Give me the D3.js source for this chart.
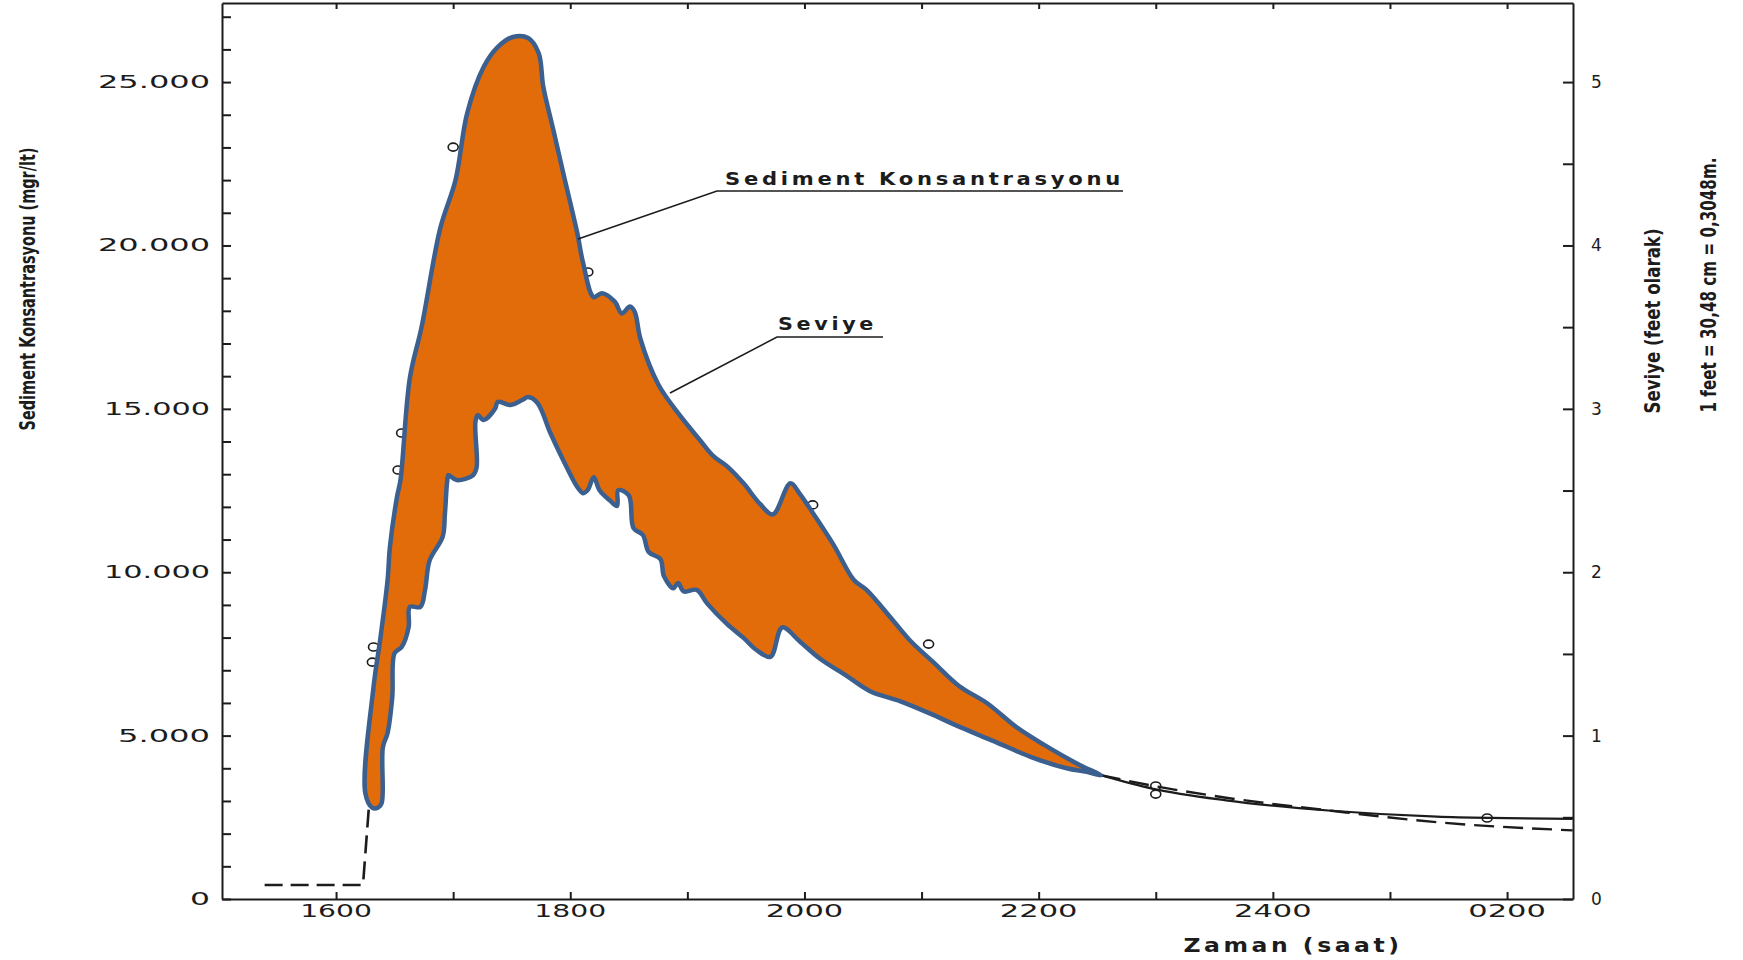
<!DOCTYPE html>
<html>
<head>
<meta charset="utf-8">
<script src="https://cdn.jsdelivr.net/npm/d3@7"></script>
<style>
  body { margin: 0; background: #fff; }
  svg { display: block; }
  text { fill: #1c1c1c; }
</style>
</head>
<body>
<svg id="chart" width="1743" height="960"></svg>
<script>
// time in hours (16 = 1600, 26 = 0200), concentration in mgr/lt
const upperTime = [16.25, 16.32, 16.38, 16.44, 16.46, 16.52, 16.55, 16.63, 16.73, 16.89, 17.02, 17.12, 17.26, 17.38, 17.51, 17.64, 17.73, 17.77, 17.85, 17.94, 18.06, 18.11, 18.20, 18.27, 18.38, 18.44, 18.51, 18.55, 18.60, 18.75, 18.91, 19.11, 19.22, 19.34, 19.48, 19.62, 19.73, 19.88, 19.96, 20.08, 20.25, 20.42, 20.53, 20.76, 20.91, 21.10, 21.32, 21.56, 21.81, 22.04, 22.35, 22.53];
const upperConc = [3240, 6490, 8020, 9760, 10770, 12300, 12820, 15940, 17500, 20530, 22000, 24050, 25460, 26070, 26380, 26350, 25890, 24850, 23620, 22220, 20380, 19460, 18420, 18540, 18280, 17920, 18130, 17970, 17130, 15760, 14920, 14030, 13560, 13240, 12720, 12090, 11770, 12720, 12400, 11770, 10830, 9770, 9460, 8510, 7880, 7250, 6520, 5990, 5260, 4730, 4100, 3790];

const lowerTime = [16.31, 16.36, 16.39, 16.40, 16.44, 16.48, 16.50, 16.56, 16.62, 16.63, 16.72, 16.76, 16.80, 16.91, 16.93, 16.95, 16.96, 17.03, 17.17, 17.20, 17.19, 17.21, 17.26, 17.36, 17.38, 17.49, 17.59, 17.64, 17.72, 17.83, 17.94, 18.06, 18.11, 18.15, 18.20, 18.25, 18.34, 18.40, 18.41, 18.50, 18.54, 18.62, 18.67, 18.77, 18.80, 18.88, 18.92, 18.97, 19.08, 19.17, 19.34, 19.48, 19.59, 19.71, 19.81, 19.96, 20.13, 20.36, 20.56, 20.82, 21.07, 21.33, 21.61, 21.96, 22.24, 22.41];
const lowerConc = [2790, 2800, 2940, 4650, 5080, 6180, 7530, 7710, 8320, 8940, 8940, 9460, 10370, 11080, 11810, 12820, 12970, 12820, 12970, 13200, 14600, 14810, 14660, 15020, 15210, 15120, 15270, 15360, 15180, 14260, 13430, 12610, 12420, 12520, 12910, 12510, 12190, 12030, 12510, 12350, 11350, 11140, 10620, 10400, 9880, 9510, 9670, 9410, 9460, 9040, 8410, 7990, 7620, 7410, 8310, 7880, 7360, 6830, 6360, 6050, 5680, 5260, 4840, 4310, 4000, 3890];

const sedimentTailTime = [22.53, 22.97, 23.6, 24.5, 25.4, 25.85, 26.56];
const sedimentTailConc = [3790, 3380, 3020, 2700, 2520, 2480, 2450];

// Seviye in feet (right axis)
const seviyeStartTime = [15.39, 16.23, 16.28];
const seviyeStartFeet = [0.086, 0.086, 0.56];
const seviyeTailTime = [22.53, 23.0, 23.6, 24.5, 25.4, 26.56];
const seviyeTailFeet = [0.758, 0.69, 0.62, 0.54, 0.47, 0.42];

const circleTime = [17.00, 18.15, 16.56, 16.53, 16.32, 16.31, 20.07, 21.06, 23.0, 23.0, 25.83];
const circleConc = [23010, 19190, 14260, 13130, 7710, 7250, 12060, 7800, 3460, 3210, 2480];

const xTickHours = [16, 18, 20, 22, 24, 26];
const xTickLabels = ["1600", "1800", "2000", "2200", "2400", "0200"];
const yTickValues = [0, 5000, 10000, 15000, 20000, 25000];
const yTickLabels = ["0", "5.000", "10.000", "15.000", "20.000", "25.000"];
const feetTicks = [0, 1, 2, 3, 4, 5];

const svg = d3.select("#chart");
const plotLeft = 222, plotRight = 1573, plotTop = 3, plotBottom = 899;

const x = d3.scaleLinear().domain([15.026, 26.563]).range([plotLeft, plotRight]);
const y = d3.scaleLinear().domain([0, 27420]).range([plotBottom, plotTop]);
const yFeet = d3.scaleLinear().domain([0, 27420 / 5000]).range([plotBottom, plotTop]);

// wide lettering of the original, stretched to fit
function labelWidth(s) {
  let w = 0;
  for (const c of s) w += c == "1" ? 14 : c == "." ? 12 : 20;
  return w;
}

// axes (ticks point inward)
const axisStyle = g => {
  g.selectAll("path, line").attr("stroke", "#1c1c1c").attr("stroke-width", 2);
  g.selectAll("text").remove();
};
svg.append("g").attr("transform", "translate(" + plotLeft + ",0)")
  .call(d3.axisLeft(y).tickValues(d3.range(0, 27001, 1000)).tickSize(-9).tickSizeOuter(0))
  .call(axisStyle);
svg.append("g").attr("transform", "translate(" + plotRight + ",0)")
  .call(d3.axisRight(yFeet).tickValues(d3.range(0, 5.01, 0.5)).tickSize(-10).tickSizeOuter(0))
  .call(axisStyle);
svg.append("g").attr("transform", "translate(0," + plotBottom + ")")
  .call(d3.axisBottom(x).tickValues(d3.range(16, 27)).tickSize(-7).tickSizeOuter(0))
  .call(axisStyle);
svg.append("g").attr("transform", "translate(0," + plotTop + ")")
  .call(d3.axisTop(x).tickValues(d3.range(16, 27)).tickSize(-6).tickSizeOuter(0))
  .call(axisStyle);

// tick labels
const tickFont = "'DejaVu Sans', Verdana, sans-serif";
svg.selectAll(".ylab").data(yTickValues).enter().append("text")
  .attr("x", 210).attr("y", d => y(d) + 6)
  .attr("text-anchor", "end")
  .attr("font-family", tickFont).attr("font-size", 17)
  .attr("textLength", (d, i) => labelWidth(yTickLabels[i]))
  .attr("lengthAdjust", "spacingAndGlyphs")
  .text((d, i) => yTickLabels[i]);

svg.selectAll(".xlab").data(xTickHours).enter().append("text")
  .attr("x", d => x(d)).attr("y", 917)
  .attr("text-anchor", "middle")
  .attr("font-family", tickFont).attr("font-size", 17)
  .attr("textLength", (d, i) => labelWidth(xTickLabels[i]) * 0.97)
  .attr("lengthAdjust", "spacingAndGlyphs")
  .text((d, i) => xTickLabels[i]);

svg.selectAll(".flab").data(feetTicks).enter().append("text")
  .attr("x", 1591).attr("y", d => yFeet(d) + 6)
  .attr("font-family", tickFont).attr("font-size", 17)
  .text(d => d);

// open circles of the measurements
svg.selectAll(".pt").data(circleTime).enter().append("ellipse")
  .attr("cx", d => x(d)).attr("cy", (d, i) => y(circleConc[i]))
  .attr("rx", 5).attr("ry", 4)
  .attr("fill", "#fff").attr("stroke", "#1c1c1c").attr("stroke-width", 1.6);

// dashed Seviye line
const feetLine = d3.line().x(d => x(d[0])).y(d => yFeet(d[1]));
svg.append("path")
  .attr("d", feetLine(seviyeStartTime.map((t, i) => [t, seviyeStartFeet[i]])))
  .attr("fill", "none").attr("stroke", "#1c1c1c").attr("stroke-width", 2.6)
  .attr("stroke-dasharray", "18,8");
svg.append("path")
  .attr("d", d3.line().curve(d3.curveMonotoneX).x(d => x(d[0])).y(d => yFeet(d[1]))(seviyeTailTime.map((t, i) => [t, seviyeTailFeet[i]])))
  .attr("fill", "none").attr("stroke", "#1c1c1c").attr("stroke-width", 2.4)
  .attr("stroke-dasharray", "20,9");

// solid sediment tail
svg.append("path")
  .attr("d", d3.line().curve(d3.curveMonotoneX).x(d => x(d[0])).y(d => y(d[1]))(sedimentTailTime.map((t, i) => [t, sedimentTailConc[i]])))
  .attr("fill", "none").attr("stroke", "#1c1c1c").attr("stroke-width", 2.2);

// orange band between the two curves
const upperPts = upperTime.map((t, i) => [t, upperConc[i]]);
const lowerPts = lowerTime.map((t, i) => [t, lowerConc[i]]).reverse();
const band = d3.line().curve(d3.curveCatmullRomClosed.alpha(0.5)).x(d => x(d[0])).y(d => y(d[1]));
svg.append("path")
  .attr("d", band(upperPts.concat(lowerPts)))
  .attr("fill", "#e36c0a")
  .attr("stroke", "#3b5f8e").attr("stroke-width", 4.5)
  .attr("stroke-linejoin", "round");

// annotations
const noteFont = "'DejaVu Sans', Verdana, sans-serif";
svg.append("text").attr("x", 725).attr("y", 185)
  .attr("font-family", noteFont).attr("font-size", 17).attr("font-weight", 600)
  .attr("letter-spacing", 3)
  .attr("textLength", 399).attr("lengthAdjust", "spacingAndGlyphs")
  .text("Sediment Konsantrasyonu");
svg.append("polyline").attr("points", "1123,191 717,191 578,239")
  .attr("fill", "none").attr("stroke", "#1c1c1c").attr("stroke-width", 1.6);

svg.append("text").attr("x", 778).attr("y", 330)
  .attr("font-family", noteFont).attr("font-size", 17).attr("font-weight", 600)
  .attr("letter-spacing", 3)
  .attr("textLength", 99).attr("lengthAdjust", "spacingAndGlyphs")
  .text("Seviye");
svg.append("polyline").attr("points", "883,337 777,337 670,393")
  .attr("fill", "none").attr("stroke", "#1c1c1c").attr("stroke-width", 1.6);

// axis titles
const titleFont = "'DejaVu Sans Condensed', 'Liberation Sans Narrow', 'DejaVu Sans', sans-serif";
svg.append("text").attr("transform", "translate(35,289) rotate(-90)")
  .attr("text-anchor", "middle").attr("font-family", titleFont).attr("font-size", 21).attr("font-weight", 600)
  .attr("textLength", 283).attr("lengthAdjust", "spacingAndGlyphs")
  .text("Sediment Konsantrasyonu (mgr/lt)");
svg.append("text").attr("transform", "translate(1660,321) rotate(-90)")
  .attr("text-anchor", "middle").attr("font-family", titleFont).attr("font-size", 21).attr("font-weight", 600)
  .attr("textLength", 185).attr("lengthAdjust", "spacingAndGlyphs")
  .text("Seviye (feet olarak)");
svg.append("text").attr("transform", "translate(1716,285) rotate(-90)")
  .attr("text-anchor", "middle").attr("font-family", titleFont).attr("font-size", 21).attr("font-weight", 600)
  .attr("textLength", 255).attr("lengthAdjust", "spacingAndGlyphs")
  .text("1 feet = 30,48 cm = 0,3048m.");
svg.append("text").attr("x", 1293).attr("y", 952)
  .attr("text-anchor", "middle").attr("font-family", noteFont).attr("font-size", 20).attr("font-weight", 600)
  .attr("letter-spacing", 3)
  .attr("textLength", 219).attr("lengthAdjust", "spacingAndGlyphs")
  .text("Zaman (saat)");
</script>
</body>
</html>
